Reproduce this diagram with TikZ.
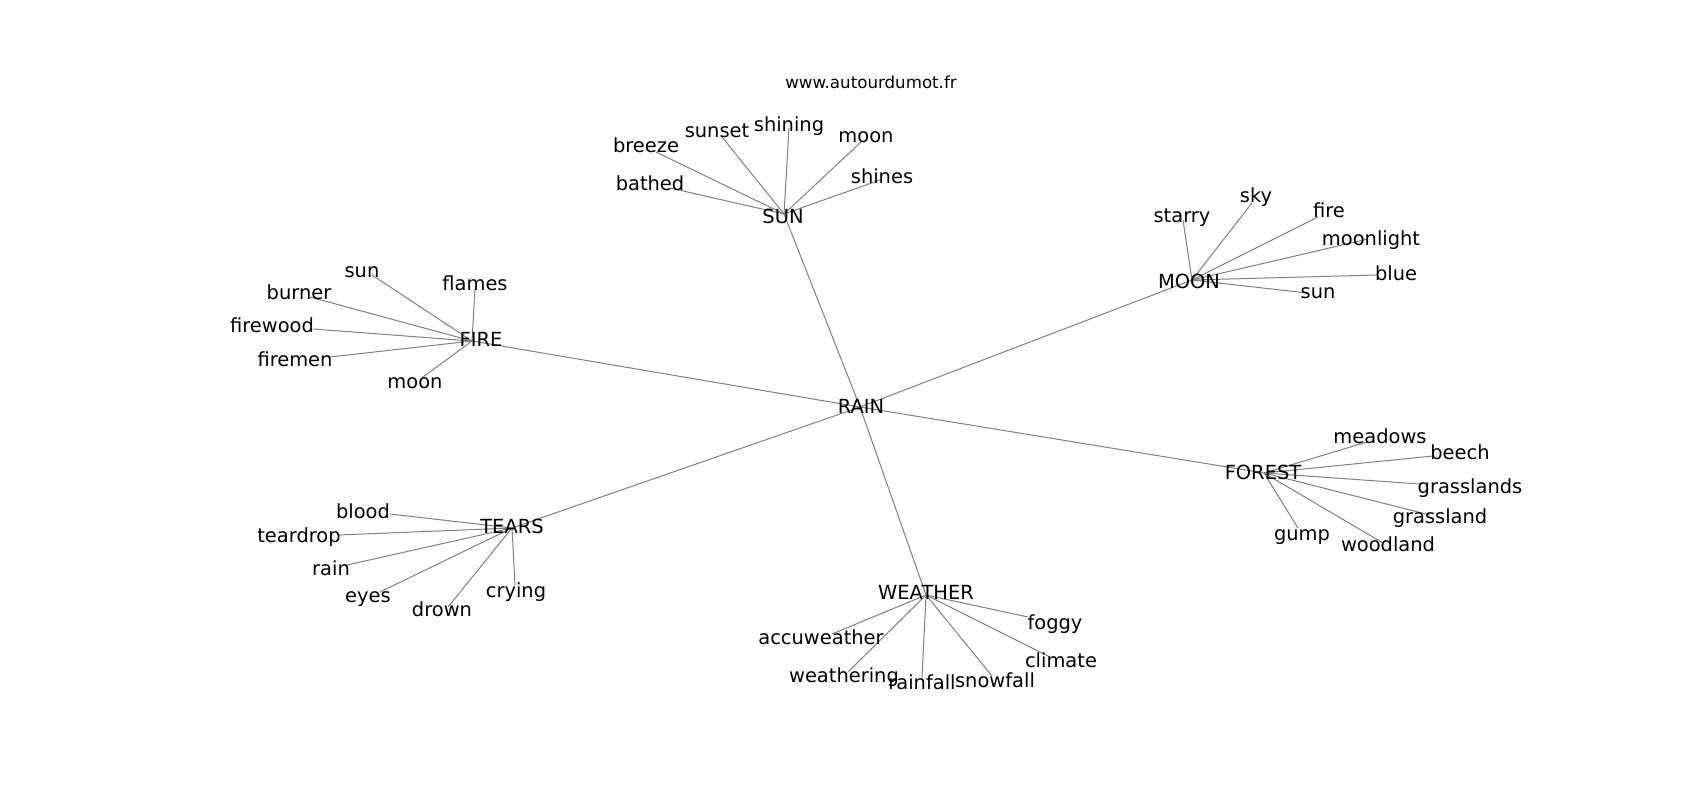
\documentclass[tikz,border=0pt]{standalone}
\usepackage{fontspec}
\setmainfont{DejaVu Sans}
\begin{document}
\begin{tikzpicture}[x=0.72pt,y=-0.72pt,
  edge/.style={draw=black!50, line width=0.72pt},
  lbl/.style={anchor=base, inner sep=0pt, font=\fontsize{14}{16}\selectfont},
  ttl/.style={anchor=base, inner sep=0pt, font=\fontsize{12}{14}\selectfont}]
\useasboundingbox[fill=white] (0,0) rectangle (1700,800);
% hubs
\coordinate (rain) at (860,407);
\coordinate (sun) at (784,214);
\coordinate (fire) at (472,341);
\coordinate (moon) at (1192,280);
\coordinate (forest) at (1264,473);
\coordinate (tears) at (512,528);
\coordinate (weather) at (926,595);
% SUN leaves
\coordinate (bathed) at (670,188);
\coordinate (breeze) at (656,152);
\coordinate (sunset) at (722,137);
\coordinate (shining) at (789,128);
\coordinate (sunmoon) at (861,142);
\coordinate (shines) at (880,180);
% FIRE leaves
\coordinate (firesun) at (372,275);
\coordinate (flames) at (475,289);
\coordinate (burner) at (310,297);
\coordinate (firewood) at (313,329);
\coordinate (firemen) at (330,357);
\coordinate (firemoon) at (423,377);
% MOON leaves
\coordinate (starry) at (1183,220);
\coordinate (sky) at (1252,203);
\coordinate (moonfire) at (1318,217);
\coordinate (moonlight) at (1368,239);
\coordinate (blue) at (1377,275);
\coordinate (moonsun) at (1307,293);
% FOREST leaves
\coordinate (meadows) at (1367,442);
\coordinate (beech) at (1433,456);
\coordinate (grasslands) at (1420,484);
\coordinate (grassland) at (1430,515);
\coordinate (woodland) at (1383,543);
\coordinate (gump) at (1298,528);
% TEARS leaves
\coordinate (blood) at (390,514);
\coordinate (teardrop) at (338,535);
\coordinate (tearsrain) at (347,565);
\coordinate (eyes) at (380,592);
\coordinate (drown) at (448,607);
\coordinate (crying) at (515,585);
% WEATHER leaves
\coordinate (accuweather) at (832,634);
\coordinate (weathering) at (848,672);
\coordinate (rainfall) at (922,678);
\coordinate (snowfall) at (992,676);
\coordinate (climate) at (1050,657);
\coordinate (foggy) at (1028,617);

% edges
\foreach \h in {sun,fire,moon,forest,tears,weather} \draw[edge] (rain) -- (\h);
\foreach \l in {bathed,breeze,sunset,shining,sunmoon,shines} \draw[edge] (sun) -- (\l);
\foreach \l in {firesun,flames,burner,firewood,firemen,firemoon} \draw[edge] (fire) -- (\l);
\foreach \l in {starry,sky,moonfire,moonlight,blue,moonsun} \draw[edge] (moon) -- (\l);
\foreach \l in {meadows,beech,grasslands,grassland,woodland,gump} \draw[edge] (forest) -- (\l);
\foreach \l in {blood,teardrop,tearsrain,eyes,drown,crying} \draw[edge] (tears) -- (\l);
\foreach \l in {accuweather,weathering,rainfall,snowfall,climate,foggy} \draw[edge] (weather) -- (\l);

% labels
\node[ttl] (title) at (871,88) {www.autourdumot.fr};
\node[lbl] (rainl) at (861,413) {RAIN};
\node[lbl] (sunl) at (783,223) {SUN};
\node[lbl] (firel) at (481,346) {FIRE};
\node[lbl] (moonl) at (1189,288) {MOON};
\node[lbl] (forestl) at (1263,479) {FOREST};
\node[lbl] (tearsl) at (512,533) {TEARS};
\node[lbl] (weatherl) at (926,599) {WEATHER};

\node[lbl] (bathedl) at (650,190) {bathed};
\node[lbl] (breezel) at (646,152) {breeze};
\node[lbl] (sunsetl) at (717,137) {sunset};
\node[lbl] (shiningl) at (789,131) {shining};
\node[lbl] (sunmoonl) at (866,142) {moon};
\node[lbl] (shinesl) at (882,183) {shines};

\node[lbl] (firesunl) at (362,277) {sun};
\node[lbl] (flamesl) at (475,290) {flames};
\node[lbl] (burnerl) at (299,299) {burner};
\node[lbl] (firewoodl) at (272,332) {firewood};
\node[lbl] (firemenl) at (295,366) {firemen};
\node[lbl] (firemoonl) at (415,388) {moon};

\node[lbl] (starryl) at (1182,222) {starry};
\node[lbl] (skyl) at (1256,202) {sky};
\node[lbl] (moonfirel) at (1329,217) {fire};
\node[lbl] (moonlightl) at (1371,245) {moonlight};
\node[lbl] (bluel) at (1396,280) {blue};
\node[lbl] (moonsunl) at (1318,298) {sun};

\node[lbl] (meadowsl) at (1380,443) {meadows};
\node[lbl] (beechl) at (1460,459) {beech};
\node[lbl] (grasslandsl) at (1470,493) {grasslands};
\node[lbl] (grasslandl) at (1440,523) {grassland};
\node[lbl] (woodlandl) at (1388,551) {woodland};
\node[lbl] (gumpl) at (1302,540) {gump};

\node[lbl] (bloodl) at (363,518) {blood};
\node[lbl] (teardropl) at (299,542) {teardrop};
\node[lbl] (tearsrainl) at (331,575) {rain};
\node[lbl] (eyesl) at (368,602) {eyes};
\node[lbl] (drownl) at (442,616) {drown};
\node[lbl] (cryingl) at (516,597) {crying};

\node[lbl] (accuweatherl) at (821,644) {accuweather};
\node[lbl] (weatheringl) at (844,682) {weathering};
\node[lbl] (rainfalll) at (922,689) {rainfall};
\node[lbl] (snowfalll) at (995,687) {snowfall};
\node[lbl] (climatel) at (1061,667) {climate};
\node[lbl] (foggyl) at (1055,629) {foggy};
\end{tikzpicture}
\end{document}
